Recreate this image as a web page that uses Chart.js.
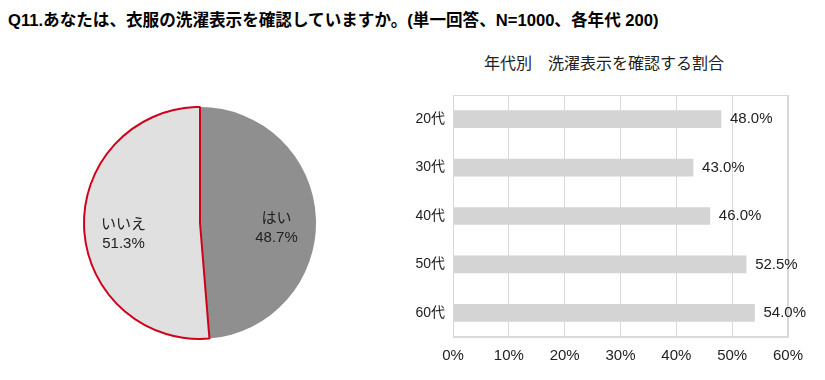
<!DOCTYPE html>
<html>
<head>
<meta charset="utf-8">
<script src="https://cdn.jsdelivr.net/npm/chart.js@4"></script>
<style>
  body { margin: 0; background: #fff; width: 825px; height: 380px; position: relative; overflow: hidden; }
  #title { position: absolute; left: 8px; top: 7px; font: bold 16.6px "Liberation Sans", "Noto Sans CJK JP", sans-serif; color: #000; white-space: nowrap; }
  #subtitle { position: absolute; left: 404px; width: 400px; top: 50px; text-align: center; font: 16px "Liberation Sans", "Noto Sans CJK JP", sans-serif; color: #222; white-space: nowrap; }
  #pie { position: absolute; left: 80px; top: 103px; }
  #bar { position: absolute; left: 400px; top: 40px; }
</style>
</head>
<body>
<div id="title">Q11.あなたは、衣服の洗濯表示を確認していますか。(単一回答、N=1000、各年代 200)</div>
<div id="subtitle">年代別　洗濯表示を確認する割合</div>
<canvas id="pie" width="240" height="240"></canvas>
<canvas id="bar" width="420" height="335"></canvas>
<script>
// data
const pieLabels = ["はい", "いいえ"];
const pieValues = [48.7, 51.3];
const ageLabels = ["20代", "30代", "40代", "50代", "60代"];
const ageValues = [48.0, 43.0, 46.0, 52.5, 54.0];
const xTicks = [0, 10, 20, 30, 40, 50, 60];

const FONT = '"Liberation Sans", "Noto Sans CJK JP", sans-serif';
Chart.defaults.font.family = FONT;
Chart.defaults.color = "#222";

// labels inside pie slices
const pieLabelPlugin = {
  id: "pieLabels",
  afterDatasetsDraw(chart) {
    const ctx = chart.ctx;
    const meta = chart.getDatasetMeta(0);
    ctx.save();
    ctx.font = "15px " + FONT;
    ctx.fillStyle = "#222";
    ctx.textAlign = "center";
    ctx.textBaseline = "middle";
    meta.data.forEach((arc, i) => {
      const mid = (arc.startAngle + arc.endAngle) / 2;
      const r = arc.outerRadius * 0.66;
      const x = arc.x + Math.cos(mid) * r;
      const y = arc.y + Math.sin(mid) * r;
      ctx.fillText(pieLabels[i], x, y - 1);
      ctx.fillText(pieValues[i].toFixed(1) + "%", x, y + 18);
    });
    ctx.restore();
  }
};

new Chart(document.getElementById("pie"), {
  type: "pie",
  data: {
    labels: pieLabels,
    datasets: [{
      data: pieValues,
      backgroundColor: ["#8f8f8f", "#e0e0e0"],
      borderColor: ["#8f8f8f", "#d0021b"],
      borderWidth: [0, 2],
    }],
  },
  options: {
    responsive: false,
    animation: false,
    layout: { padding: 3 },
    plugins: { legend: { display: false }, tooltip: { enabled: false } },
  },
  plugins: [pieLabelPlugin],
});

// value labels + plot frame for bar chart
const barExtras = {
  id: "barExtras",
  afterDatasetsDraw(chart) {
    const ctx = chart.ctx;
    const a = chart.chartArea;
    ctx.save();
    ctx.strokeStyle = "#d9d9d9";
    ctx.lineWidth = 1;
    ctx.strokeRect(a.left + 0.5, a.top + 0.5, a.right - a.left - 1, a.bottom - a.top - 1);
    ctx.font = "15px " + FONT;
    ctx.fillStyle = "#222";
    ctx.textAlign = "left";
    ctx.textBaseline = "middle";
    chart.getDatasetMeta(0).data.forEach((bar, i) => {
      ctx.fillText(ageValues[i].toFixed(1) + "%", bar.x + 9, bar.y);
    });
    ctx.restore();
  }
};

new Chart(document.getElementById("bar"), {
  type: "bar",
  data: {
    labels: ageLabels,
    datasets: [{
      data: ageValues,
      backgroundColor: "#d4d4d4",
      barThickness: 17,
    }],
  },
  options: {
    indexAxis: "y",
    responsive: false,
    animation: false,
    layout: { padding: { left: 0, right: 32, top: 55, bottom: 0 } },
    plugins: {
      legend: { display: false },
      tooltip: { enabled: false },
    },
    scales: {
      x: {
        min: 0,
        max: 60,
        afterBuildTicks: (s) => { s.ticks = xTicks.map((v) => ({ value: v })); },
        ticks: { callback: (v) => v + "%", font: { size: 15 }, color: "#222", padding: 10, maxRotation: 0 },
        grid: { color: "#d9d9d9", drawTicks: false },
        border: { color: "#d9d9d9" },
      },
      y: {
        afterFit: (s) => { s.width = 53; },
        ticks: { font: { size: 14 }, color: "#222", padding: 8 },
        grid: { display: false, drawTicks: false },
        border: { color: "#d9d9d9" },
      },
    },
  },
  plugins: [barExtras],
});
</script>
</body>
</html>
